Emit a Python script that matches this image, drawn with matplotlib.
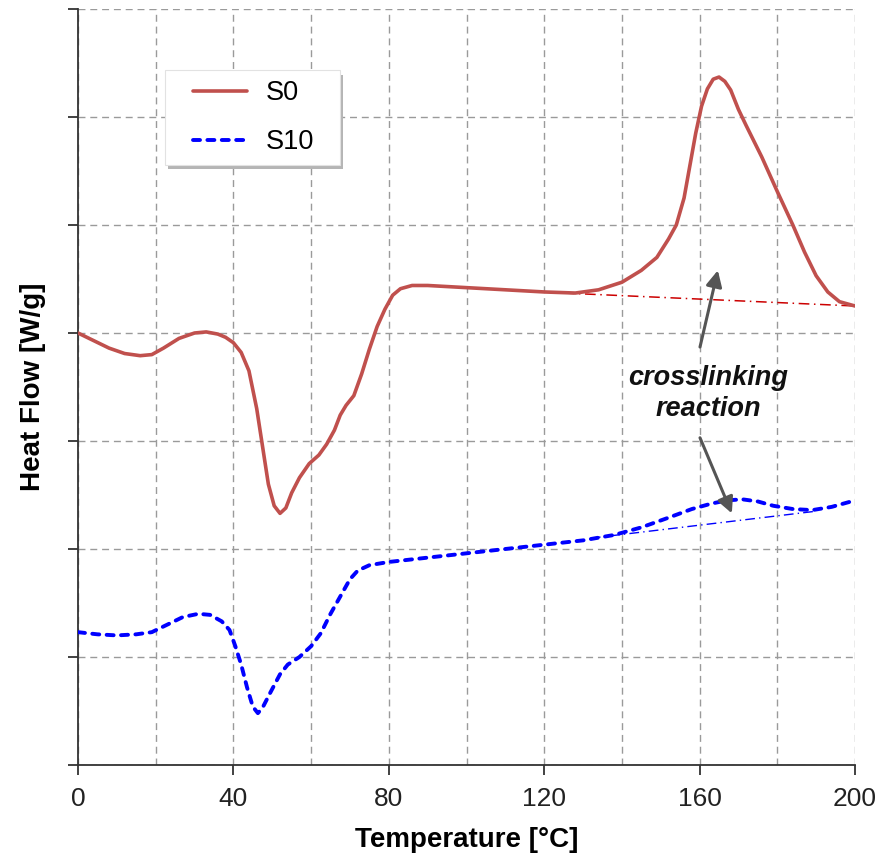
import matplotlib
matplotlib.use("Agg")
import matplotlib.pyplot as plt
from matplotlib.ticker import MultipleLocator
from matplotlib.patches import Rectangle

# ---- data ----
s0_T = [0, 4, 8, 12, 16, 19, 22, 26, 30, 33, 36, 38, 40, 42, 44, 46, 47.5, 49, 50.5, 52, 53.5,
        55, 57, 59.5, 62, 64, 66, 67.5, 69, 71, 73, 75, 77, 79, 81, 83, 86, 90, 100, 110,
        120, 128, 134, 140, 145, 149, 152, 154, 156, 157.5, 159, 160.5, 162, 163.5, 165,
        166.5, 168, 170, 172, 176, 180, 184, 187, 190, 193, 196, 200]
s0_HF = [4.00, 3.93, 3.86, 3.81, 3.79, 3.80, 3.86, 3.95, 4.00, 4.01, 3.99, 3.96, 3.91, 3.82,
         3.65, 3.30, 2.95, 2.60, 2.40, 2.33, 2.38, 2.52, 2.66, 2.79, 2.87, 2.97, 3.10, 3.24,
         3.33, 3.42, 3.62, 3.85, 4.06, 4.22, 4.35, 4.41, 4.44, 4.44, 4.42, 4.40, 4.38, 4.37,
         4.40, 4.47, 4.58, 4.70, 4.87, 5.00, 5.25, 5.55, 5.85, 6.10, 6.26, 6.35, 6.37, 6.33,
         6.25, 6.07, 5.92, 5.63, 5.31, 5.00, 4.75, 4.53, 4.38, 4.29, 4.25]

s10_T = [0, 5, 10, 15, 19, 23, 27, 31, 34, 37, 39, 40.5, 42, 43.5, 45, 46.3, 47.5, 49.5, 52,
         54, 57, 60, 62.5, 65, 67.5, 70, 72, 75, 80, 90, 100, 110, 120, 130, 138, 145, 152,
         158, 163, 167, 171, 175, 179, 184, 189, 194, 200]
s10_HF = [1.23, 1.21, 1.20, 1.21, 1.23, 1.30, 1.37, 1.40, 1.39, 1.33, 1.25, 1.10, 0.93, 0.72,
          0.54, 0.48, 0.53, 0.67, 0.84, 0.93, 1.00, 1.10, 1.22, 1.40, 1.56, 1.72, 1.80, 1.85,
          1.88, 1.92, 1.96, 2.00, 2.04, 2.08, 2.13, 2.20, 2.29, 2.37, 2.42, 2.45, 2.46, 2.44,
          2.40, 2.37, 2.36, 2.39, 2.45]

s0_base_T = [125, 200]
s0_base_HF = [4.37, 4.25]
s10_base_T = [132, 190]
s10_base_HF = [2.10, 2.35]

series_labels = ["S0", "S10"]
x_ticks = [0, 40, 80, 120, 160, 200]
annotation_text = "crosslinking\nreaction"

# ---- figure ----
plt.rcParams['font.family'] = ['Liberation Sans', 'DejaVu Sans']
fig = plt.figure(figsize=(8.88, 8.56), dpi=100)
ax = fig.add_axes([78/888, 91/856, 777/888, 756/856])

red = '#C0504D'
blue = '#0000FF'

ax.plot(s0_T, s0_HF, color=red, lw=2.6, label=series_labels[0], solid_capstyle='round',
        solid_joinstyle='round', zorder=4)
ax.plot(s10_T, s10_HF, color=blue, lw=2.8, linestyle=(0, (1.8, 1.9)),
        dash_capstyle='round', label=series_labels[1], zorder=4)
ax.plot(s0_base_T, s0_base_HF, color='#CC0000', lw=1.1, linestyle=(0, (7, 3, 1, 3)), zorder=3)
ax.plot(s10_base_T, s10_base_HF, color=blue, lw=1.0, linestyle=(0, (7, 3, 1, 3)), zorder=3)

ax.set_xlim(0, 200)
ax.set_ylim(0, 7)
ax.set_xticks(x_ticks)
ax.xaxis.set_minor_locator(MultipleLocator(20))
ax.set_yticks(range(0, 8))
ax.set_yticklabels([])

ax.grid(True, which='major', axis='both', color='#9a9a9a', linestyle=(0, (5, 3.5)), lw=1.0)
ax.grid(True, which='minor', axis='x', color='#9a9a9a', linestyle=(0, (5, 3.5)), lw=1.0)
ax.set_axisbelow(True)

for s in ['top', 'right']:
    ax.spines[s].set_visible(False)
for s in ['left', 'bottom']:
    ax.spines[s].set_color('#333333')
    ax.spines[s].set_linewidth(1.3)

ax.tick_params(axis='both', which='major', direction='out', length=7.5, width=1.3,
               color='#333333', labelsize=19, labelcolor='#222222', pad=8)
ax.tick_params(axis='x', which='minor', length=0)

ax.set_xlabel("Temperature [°C]", fontsize=20, fontweight='bold', labelpad=12)
ax.set_ylabel("Heat Flow [W/g]", fontsize=20, fontweight='bold')
ax.yaxis.set_label_coords(-0.041, 0.5)

# legend frame with shadow, drawn separately
shadow = Rectangle((0.116, 0.788), 0.225, 0.125, transform=ax.transAxes,
                   facecolor='#b5b5b5', edgecolor='none', zorder=7)
frame = Rectangle((0.112, 0.794), 0.225, 0.125, transform=ax.transAxes,
                  facecolor='white', edgecolor='#e2e2e2', lw=0.8, zorder=8)
ax.add_patch(shadow)
ax.add_patch(frame)
leg = ax.legend(loc='upper left', bbox_to_anchor=(0.148, 0.906), fontsize=19.5,
                frameon=False, handlelength=2.0, borderpad=0, labelspacing=0.85,
                handletextpad=0.68, borderaxespad=0)
leg.set_zorder(9)

ax.text(162.2, 3.44, annotation_text, ha='center', va='center', fontsize=19.5,
        fontweight='bold', fontstyle='italic', linespacing=1.25, color='#111111', zorder=6)
arrow_props = dict(arrowstyle='-|>', color='#555555', lw=2.2, mutation_scale=24,
                   shrinkA=0, shrinkB=0)
ax.annotate("", xy=(164.7, 4.58), xytext=(160.1, 3.87), arrowprops=arrow_props, zorder=6)
ax.annotate("", xy=(168.3, 2.33), xytext=(160.1, 3.03), arrowprops=arrow_props, zorder=6)

fig.savefig("out.png", dpi=100)
